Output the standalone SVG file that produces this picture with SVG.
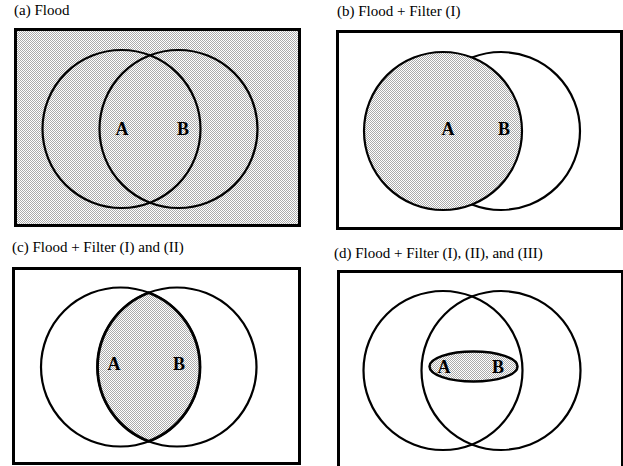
<svg xmlns="http://www.w3.org/2000/svg" width="623" height="466" viewBox="0 0 623 466">
<style>
text{font-family:'Liberation Serif','Times New Roman','DejaVu Serif',serif}
.cap{font-size:15px;fill:#000}
.lbl{font-size:18px;font-weight:bold;fill:#000;text-anchor:middle}
.frame{fill:#fff;stroke:#000;stroke-width:3}
.ring{fill:none;stroke:#000;stroke-width:2.2}
</style>
<defs>
<pattern id="hatch" patternUnits="userSpaceOnUse" width="2" height="2">
<rect width="2" height="2" fill="#fff"/>
<rect x="0" y="0" width="1" height="1" fill="#ababab"/>
<rect x="1" y="1" width="1" height="1" fill="#ababab"/>
</pattern>
</defs>
<rect width="623" height="466" fill="#fff"/>

<g id="panel-a">
<text class="cap" x="14" y="15">(a) Flood</text>
<rect x="15.5" y="29.5" width="284" height="196" fill="url(#hatch)" stroke="#000" stroke-width="3"/>
<circle class="ring" cx="121.5" cy="129" r="79"/>
<circle class="ring" cx="178.5" cy="129" r="79"/>
<text class="lbl" x="122" y="135">A</text>
<text class="lbl" x="183" y="135">B</text>
</g>

<g id="panel-b">
<text class="cap" x="337" y="16">(b) Flood + Filter (I)</text>
<rect class="frame" x="337.5" y="31.5" width="284" height="197"/>
<circle cx="501" cy="131" r="79" fill="#fff" stroke="#000" stroke-width="2.2"/>
<circle cx="443" cy="131" r="79" fill="url(#hatch)" stroke="#000" stroke-width="2.2"/>
<text class="lbl" x="448" y="135">A</text>
<text class="lbl" x="504" y="135">B</text>
</g>

<g id="panel-c">
<text class="cap" x="12" y="252">(c) Flood + Filter (I) and (II)</text>
<rect class="frame" x="13.5" y="268.5" width="286" height="195"/>
<circle class="ring" cx="120.5" cy="367" r="79.5"/>
<circle class="ring" cx="177" cy="367" r="79.5"/>
<path d="M148.75 292.69 A79.5 79.5 0 0 1 148.75 441.31 A79.5 79.5 0 0 1 148.75 292.69 Z" fill="url(#hatch)" stroke="#000" stroke-width="2.8"/>
<text class="lbl" x="114" y="370">A</text>
<text class="lbl" x="179" y="370">B</text>
</g>

<g id="panel-d">
<text class="cap" x="334" y="258">(d) Flood + Filter (I), (II), and (III)</text>
<rect class="frame" x="338.5" y="271.5" width="284" height="196"/>
<circle class="ring" cx="443" cy="370.5" r="79.5"/>
<circle class="ring" cx="501" cy="370.5" r="79.5"/>
<ellipse cx="473.5" cy="366.5" rx="44" ry="15" fill="url(#hatch)" stroke="#000" stroke-width="2.5"/>
<text class="lbl" x="444" y="373">A</text>
<text class="lbl" x="498" y="373">B</text>
</g>
</svg>
